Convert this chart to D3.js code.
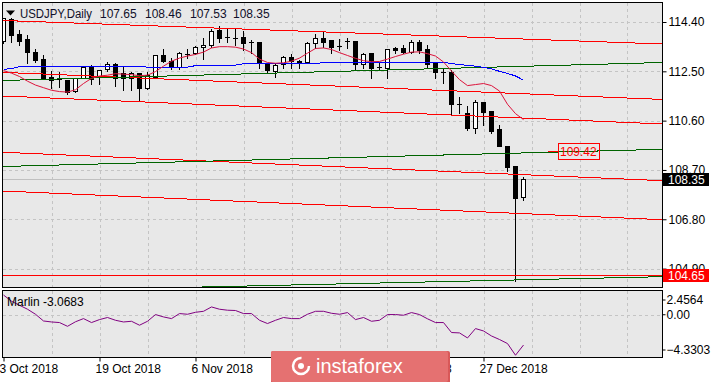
<!DOCTYPE html>
<html><head><meta charset="utf-8">
<script src="https://cdn.jsdelivr.net/npm/d3@7"></script>
<style>
body{margin:0;background:#fff}
svg{display:block}
text{font-family:"Liberation Sans",Arial,sans-serif}
</style>
</head><body>
<svg id="c" width="719" height="382"></svg>
<script>
const symbol = "USDJPY,Daily";
const lastOHLC = ["107.65","108.46","107.53","108.35"];
const dates = [
"2018-10-03","2018-10-04","2018-10-05","2018-10-08","2018-10-09","2018-10-10","2018-10-11","2018-10-12","2018-10-15","2018-10-16","2018-10-17","2018-10-18","2018-10-19","2018-10-22","2018-10-23","2018-10-24","2018-10-25","2018-10-26","2018-10-29","2018-10-30","2018-10-31",
"2018-11-01","2018-11-02","2018-11-05","2018-11-06","2018-11-07","2018-11-08","2018-11-09","2018-11-12","2018-11-13","2018-11-14","2018-11-15","2018-11-16","2018-11-19","2018-11-20","2018-11-21","2018-11-22","2018-11-23","2018-11-26","2018-11-27","2018-11-28","2018-11-29","2018-11-30",
"2018-12-03","2018-12-04","2018-12-05","2018-12-06","2018-12-07","2018-12-10","2018-12-11","2018-12-12","2018-12-13","2018-12-14","2018-12-17","2018-12-18","2018-12-19","2018-12-20","2018-12-21","2018-12-24","2018-12-26","2018-12-27","2018-12-28","2018-12-31",
"2019-01-02","2019-01-03","2019-01-04"];
const opens  = [113.65,114.52,113.92,113.74,113.23,112.96,112.28,112.25,112.15,111.74,112.25,112.67,112.29,112.58,112.80,112.42,112.23,112.42,111.84,112.29,113.13,112.91,112.67,113.17,113.19,113.42,113.51,114.09,113.83,113.80,113.83,113.64,113.64,112.81,112.52,112.78,113.04,112.91,112.87,113.58,113.77,113.70,113.47,113.66,113.66,112.77,113.19,112.68,112.62,113.39,113.41,113.26,113.62,113.36,112.87,112.48,112.46,111.26,110.91,110.33,111.32,110.96,110.27,109.62,108.85,107.65];
const highs  = [114.60,114.60,114.13,113.92,113.41,113.15,112.55,112.50,112.17,112.30,112.70,112.80,112.60,112.90,112.84,112.74,112.50,112.45,112.50,113.15,113.38,113.05,113.30,113.40,113.50,113.83,114.15,114.28,114.15,114.20,114.10,113.74,113.66,112.84,112.87,113.14,113.20,112.97,113.68,113.98,114.09,113.72,113.77,113.83,113.68,113.23,113.22,112.90,113.39,113.49,113.54,113.74,113.74,113.55,112.90,112.61,112.58,111.54,111.20,111.42,111.32,111.00,110.47,109.62,108.88,108.46];
const lows   = [113.60,113.64,113.51,112.81,112.84,112.20,111.84,111.90,111.61,111.70,112.25,112.03,112.00,112.50,111.94,111.78,111.78,111.40,111.82,112.25,112.87,112.58,112.60,113.00,113.15,112.99,113.45,113.64,113.64,113.52,113.32,113.19,112.61,112.46,112.29,112.63,112.63,112.63,112.84,113.40,113.45,113.19,113.32,113.38,112.55,112.64,112.23,112.59,112.23,113.20,113.19,113.19,113.22,112.67,112.23,112.06,110.81,110.90,110.23,110.13,110.42,110.13,109.62,108.67,104.42,107.53];
const closes = [114.54,113.90,113.67,113.23,112.93,112.25,112.17,112.20,111.69,112.25,112.66,112.20,112.54,112.80,112.23,112.23,112.42,111.86,112.35,113.13,112.90,112.67,113.19,113.15,113.42,113.51,114.05,113.77,113.83,113.78,113.58,113.64,112.83,112.55,112.74,113.04,112.89,112.85,113.58,113.77,113.64,113.42,113.47,113.66,112.77,113.15,112.64,112.68,113.35,113.33,113.26,113.62,113.32,112.78,112.48,112.48,111.26,111.26,110.33,111.32,110.94,110.20,109.63,108.83,107.61,108.35];
const maFast = [112.53,112.43,112.30,112.12,111.97,111.87,111.77,111.72,111.70,111.79,112.03,112.23,112.32,112.35,112.41,112.39,112.37,112.33,112.35,112.49,112.70,112.89,113.01,113.09,113.15,113.24,113.40,113.45,113.45,113.43,113.36,113.22,112.97,112.84,112.81,112.83,112.89,113.01,113.20,113.38,113.40,113.34,113.22,113.11,113.00,112.91,112.87,112.88,112.97,113.07,113.16,113.24,113.25,113.18,113.09,112.86,112.51,112.18,111.95,111.99,112.03,111.95,111.74,111.23,110.87,110.64];
const maSlow = [112.58,112.60,112.68,112.70,112.70,112.70,112.70,112.70,112.69,112.69,112.69,112.69,112.69,112.69,112.69,112.69,112.69,112.69,112.66,112.66,112.66,112.66,112.66,112.66,112.72,112.72,112.72,112.74,112.74,112.74,112.79,112.79,112.79,112.79,112.79,112.79,112.79,112.79,112.79,112.79,112.84,112.84,112.84,112.84,112.84,112.84,112.84,112.84,112.84,112.84,112.84,112.84,112.84,112.85,112.85,112.85,112.80,112.76,112.73,112.70,112.65,112.60,112.50,112.42,112.32,112.16];
const marlin = [2.00,1.37,0.96,0.56,0.05,-0.63,-0.73,-0.79,-1.17,-0.71,-0.39,-0.79,-0.49,-0.28,-0.56,-0.73,-0.66,-1.06,-0.66,0.02,-0.22,-0.39,0.12,0.05,0.25,0.35,0.79,0.56,0.46,0.43,0.12,0.12,-0.56,-0.89,-0.56,-0.28,-0.39,-0.39,0.05,0.35,0.35,0.15,0.05,0.22,-0.49,-0.28,-0.66,-0.56,0.02,0.02,-0.05,0.22,0.02,-0.41,-0.79,-0.79,-1.80,-1.84,-2.35,-1.40,-1.64,-2.15,-2.51,-2.92,-4.10,-3.0683];
const priceTicks = [114.40,112.50,110.60,108.70,106.80,104.90];
const marlinTicks = [2.4564,0.00,-4.3303];
const dateTickIdx = [0,12,24,36,48,60];
const gridIdx = [6,12,18,24,30,36,42,48,54,60,66,72,78];
const redLines = [[114.458,113.553],[112.459,111.415],[111.549,110.471],[109.381,108.287],[107.890,106.784],[104.65,104.65]];
const greenLines = [[112.147,112.840],[108.834,109.496],[104.019,104.589]];
const currentPrice = 108.35;
const lowLevel = 104.65;
const labelLevel = 109.42;

const svg = d3.select("#c");
const L=3, R=663, T=3, B=287.5, MT=290.5, MB=357.5;
const x = d3.scaleLinear().domain([-0.0625,82.4375]).range([L,R]);
const y = d3.scaleLinear().domain([104.9,114.4]).range([268.6,22]);
const m = d3.scaleLinear().domain([-4.3303,2.4564]).range([MB,MT]);
const cr = v => Math.round(v)+0.5;

// backgrounds
svg.append("rect").attr("x",2.5).attr("y",2.5).attr("width",660).attr("height",285).attr("fill","#e8e8e8");
svg.append("rect").attr("x",2.5).attr("y",MT).attr("width",660).attr("height",MB-MT).attr("fill","#e8e8e8");

const defs = svg.append("defs");
defs.append("clipPath").attr("id","cm").append("rect").attr("x",3).attr("y",3).attr("width",659.5).attr("height",284);
defs.append("clipPath").attr("id","cs").append("rect").attr("x",3).attr("y",MT).attr("width",659.5).attr("height",MB-MT);

const main = svg.append("g").attr("clip-path","url(#cm)");
const sub = svg.append("g").attr("clip-path","url(#cs)");

// grid
const gridStyle = s => s.attr("stroke","#c4c4c4").attr("stroke-dasharray","3,3").attr("shape-rendering","crispEdges");
main.selectAll(".hg").data(priceTicks).join("line").attr("x1",L).attr("x2",R).attr("y1",d=>cr(y(d))-0).attr("y2",d=>cr(y(d))).call(gridStyle);
main.selectAll(".vg").data(gridIdx).join("line").attr("x1",d=>cr(x(d))-0.5).attr("x2",d=>cr(x(d))-0.5).attr("y1",T).attr("y2",B).call(gridStyle);
sub.selectAll(".vg").data(gridIdx).join("line").attr("x1",d=>cr(x(d))-0.5).attr("x2",d=>cr(x(d))-0.5).attr("y1",MT).attr("y2",MB).call(gridStyle);
sub.append("line").attr("x1",L).attr("x2",R).attr("y1",cr(m(0))).attr("y2",cr(m(0))).call(gridStyle);

// current price line
main.append("line").attr("x1",L).attr("x2",R).attr("y1",cr(y(currentPrice))).attr("y2",cr(y(currentPrice)))
  .attr("stroke","#c0c0c0").attr("shape-rendering","crispEdges");

// candles
const bars = d3.range(opens.length).map(i=>({i,o:opens[i],h:highs[i],l:lows[i],c:closes[i]}));
const cg = main.append("g").attr("shape-rendering","crispEdges");
bars.forEach(b=>{
  const cx = x(b.i);
  cg.append("line").attr("x1",cx).attr("x2",cx).attr("y1",cr(y(b.h))).attr("y2",cr(y(b.l))).attr("stroke","#000");
  const top = cr(y(Math.max(b.o,b.c))), bot = cr(y(Math.min(b.o,b.c)));
  if (bot-top < 1) {
    cg.append("line").attr("x1",cx-2.5).attr("x2",cx+2.5).attr("y1",top).attr("y2",top).attr("stroke","#000");
  } else {
    cg.append("rect").attr("x",cx-2).attr("y",top).attr("width",4).attr("height",bot-top)
      .attr("fill",b.c>=b.o?"#fff":"#000").attr("stroke","#000");
  }
});

// channel lines
const lineG = main.append("g").attr("shape-rendering","crispEdges").attr("fill","none");
const dom = x.domain();
lineG.selectAll(".rl").data(redLines).join("line")
  .attr("x1",x(dom[0])).attr("x2",x(dom[1])).attr("y1",d=>y(d[0])).attr("y2",d=>y(d[1])).attr("stroke","#ff0000");
lineG.selectAll(".gl").data(greenLines).join("line")
  .attr("x1",x(dom[0])).attr("x2",x(dom[1])).attr("y1",d=>y(d[0])).attr("y2",d=>y(d[1])).attr("stroke","#006400");

// moving averages
const ln = (arr,sc) => d3.line().x((d,i)=>x(i)).y(d=>sc(d))(arr);
main.append("path").attr("d",ln(maSlow,y)).attr("fill","none").attr("stroke","#0000ff").attr("shape-rendering","crispEdges");
main.append("path").attr("d",ln(maFast,y)).attr("fill","none").attr("stroke","#dc143c").attr("stroke-width",1);

// 109.42 label
main.append("line").attr("x1",548).attr("x2",558).attr("y1",cr(y(labelLevel))).attr("y2",cr(y(labelLevel))).attr("stroke","#ff0000").attr("shape-rendering","crispEdges");
main.append("rect").attr("x",558.5).attr("y",cr(y(labelLevel))-8).attr("width",41).attr("height",16).attr("fill","none").attr("stroke","#ff0000").attr("shape-rendering","crispEdges");
main.append("text").attr("x",560).attr("y",y(labelLevel)+4.5).attr("font-size",12).attr("fill","#ff0000").text(labelLevel.toFixed(2));

// marlin line
sub.append("path").attr("d",ln(marlin,m)).attr("fill","none").attr("stroke","#800080");

// frames
svg.append("rect").attr("x",2.5).attr("y",2.5).attr("width",660).attr("height",285).attr("fill","none").attr("stroke","#000").attr("shape-rendering","crispEdges");
svg.append("rect").attr("x",2.5).attr("y",MT-0.5+0.5).attr("width",660).attr("height",MB-MT).attr("fill","none").attr("stroke","#000").attr("shape-rendering","crispEdges");

// price axis
const pa = svg.append("g").attr("transform",`translate(${R-0.5},0)`)
  .call(d3.axisRight(y).tickValues(priceTicks).tickSize(4).tickPadding(2).tickFormat(d3.format(".2f")));
pa.select(".domain").remove();
pa.selectAll("text").attr("font-size",12).attr("fill","#000").attr("font-family","Liberation Sans, Arial, sans-serif");
pa.selectAll("line").attr("stroke","#000");

// marlin axis
const mAxis = svg.append("g").attr("transform",`translate(${R-0.5},0)`)
  .call(d3.axisRight(m).tickValues(marlinTicks).tickSize(3).tickPadding(1).tickFormat(d=>d===0?"0.00":d3.format(".4f")(d)));
mAxis.select(".domain").remove();
mAxis.selectAll(".tick").attr("transform",d=>`translate(0,${d===marlinTicks[0]?m(d)+9.5:d===marlinTicks[2]?m(d)-7.5:m(d)})`);
mAxis.selectAll("text").attr("font-size",12).attr("fill","#000").attr("font-family","Liberation Sans, Arial, sans-serif");
mAxis.selectAll("line").attr("stroke","#000");

// date axis
const fmt = d3.timeFormat("%-d %b %Y"), parse = d3.timeParse("%Y-%m-%d");
const da = svg.append("g").attr("transform",`translate(0,${MB})`)
  .call(d3.axisBottom(x).tickValues(dateTickIdx).tickSize(4).tickPadding(3).tickFormat(i=>fmt(parse(dates[i]))));
da.select(".domain").remove();
da.selectAll("text").attr("font-size",12).attr("fill","#000").attr("text-anchor","start").attr("dx",-4.5).attr("font-family","Liberation Sans, Arial, sans-serif");
da.selectAll("line").attr("stroke","#000");

// price boxes
function box(v,bg){
  const yc = y(v);
  svg.append("rect").attr("x",663).attr("y",Math.round(yc)-6).attr("width",46).attr("height",13).attr("fill",bg);
  svg.append("text").attr("x",668).attr("y",yc+4.5).attr("font-size",12).attr("fill","#fff").text(v.toFixed(2));
}
box(currentPrice,"#000");
box(lowLevel,"#ff0000");

// title
svg.append("path").attr("d","M6,10.5 L15,10.5 L10.5,15.5 Z").attr("fill","#000");
const tt = svg.append("text").attr("y",17.5).attr("font-size",12).attr("fill","#10102a");
tt.append("tspan").attr("x",20).attr("textLength",72).attr("lengthAdjust","spacingAndGlyphs").text(symbol);
[100,145,190,233].forEach((px,k)=>tt.append("tspan").attr("x",px).text(lastOHLC[k]));

// marlin label
svg.append("text").attr("x",7).attr("y",306).attr("font-size",12).attr("fill","#000").text("Marlin " + marlin[marlin.length-1].toFixed(4));

// logo
const lg = svg.append("g");
lg.append("rect").attr("x",271).attr("y",351).attr("width",179).attr("height",34).attr("rx",2).attr("fill","#d95858");
lg.append("rect").attr("x",271).attr("y",351).attr("width",177).attr("height",31).attr("rx",2).attr("fill","#e57171");
lg.append("circle").attr("cx",301).attr("cy",366).attr("r",8).attr("fill","none").attr("stroke","#fff").attr("stroke-width",2.5).attr("stroke-dasharray","38,12");
lg.append("circle").attr("cx",301).attr("cy",366).attr("r",3).attr("fill","#fff");
lg.append("text").attr("x",316).attr("y",372.5).attr("font-size",20).attr("fill","#fff").text("instaforex");
</script>
</body></html>
